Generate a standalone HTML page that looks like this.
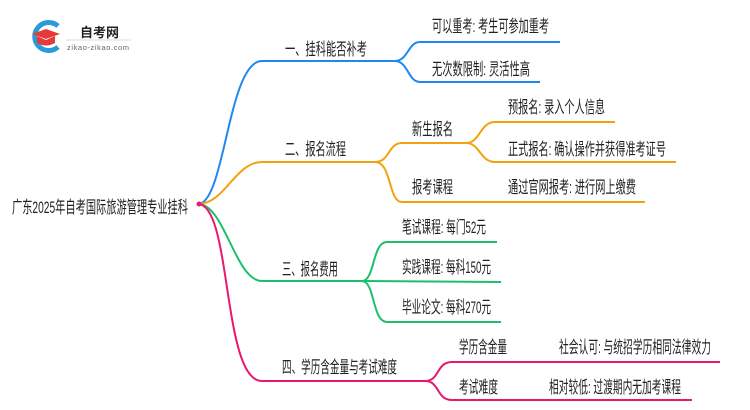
<!DOCTYPE html>
<html><head><meta charset="utf-8"><style>
html,body{margin:0;padding:0;background:#fff;width:750px;height:410px;overflow:hidden}
svg text{font-family:"Liberation Sans","Noto Sans CJK SC",sans-serif;font-size:17px;fill:#222}
</style></head><body>
<svg width="750" height="410" viewBox="0 0 750 410" xmlns="http://www.w3.org/2000/svg">
<path d="M58 26 A14 14 0 1 0 58 47" fill="none" stroke="#2a9bd8" stroke-width="5"/>
<polygon points="46,29 60,34 46,39 32,34" fill="#e63a3a"/>
<path d="M37 36 L37 43 Q46 48 55 43 L55 36 L46 40 Z" fill="#e63a3a"/>
<text x="80" y="37" style="font-size:13px;font-weight:bold" fill="#222">自考网</text>
<line x1="66" y1="40" x2="131" y2="40" stroke="#ddd" stroke-width="1"/>
<text x="67" y="50" style="font-size:7.5px;fill:#666" textLength="62">zikao-zikao.com</text>

<g fill="none" stroke-width="2">
<g stroke="#1e88f0">
<path d="M198 204 C225 204 228 61 262 61 L395 61"/>
<path d="M395 61 C408 61 408 42 420 42 L560 42"/>
<path d="M395 61 C408 61 408 82 420 82 L540 82"/>
</g>
<g stroke="#f2a20c">
<path d="M198 204 C225 204 235 162 262 162 L375 162"/>
<path d="M375 162 C390 162 388 143 402 143 L466 143"/>
<path d="M375 162 C392 162 388 202 402 202 L645 202"/>
<path d="M466 143 C480 143 480 122 495 122 L615 122"/>
<path d="M466 143 C480 143 480 162 495 162 L676 162"/>
</g>
<g stroke="#1cbf6a">
<path d="M198 204 C225 204 235 281 262 281 L362 281"/>
<path d="M362 281 C375 281 372 242 387 242 L497 242"/>
<path d="M362 281 L501 282"/>
<path d="M362 281 C375 281 372 322 387 322 L501 322"/>
</g>
<g stroke="#e8186c">
<path d="M198 204 C232 204 222 381 262 381 L425 381"/>
<path d="M425 381 C440 381 436 362 452 362 L720 362"/>
<path d="M425 381 C440 381 436 400 452 400 L692 400"/>
</g>
</g>
<circle cx="199" cy="204" r="2.5" fill="#e8186c"/>

<text x="12" y="213" textLength="176" lengthAdjust="spacingAndGlyphs">广东2025年自考国际旅游管理专业挂科</text>
<text x="285" y="55" textLength="82" lengthAdjust="spacingAndGlyphs">一、挂科能否补考</text>
<text x="432" y="32" textLength="117" lengthAdjust="spacingAndGlyphs">可以重考: 考生可参加重考</text>
<text x="432" y="75" textLength="98" lengthAdjust="spacingAndGlyphs">无次数限制: 灵活性高</text>
<text x="285" y="155" textLength="61" lengthAdjust="spacingAndGlyphs">二、报名流程</text>
<text x="412" y="135" textLength="41" lengthAdjust="spacingAndGlyphs">新生报名</text>
<text x="412" y="193" textLength="41" lengthAdjust="spacingAndGlyphs">报考课程</text>
<text x="508" y="113" textLength="97" lengthAdjust="spacingAndGlyphs">预报名: 录入个人信息</text>
<text x="508" y="155" textLength="158" lengthAdjust="spacingAndGlyphs">正式报名: 确认操作并获得准考证号</text>
<text x="508" y="193" textLength="128" lengthAdjust="spacingAndGlyphs">通过官网报考: 进行网上缴费</text>
<text x="282" y="275" textLength="56" lengthAdjust="spacingAndGlyphs">三、报名费用</text>
<text x="402" y="233" textLength="84" lengthAdjust="spacingAndGlyphs">笔试课程: 每门52元</text>
<text x="402" y="273" textLength="89" lengthAdjust="spacingAndGlyphs">实践课程: 每科150元</text>
<text x="402" y="313" textLength="89" lengthAdjust="spacingAndGlyphs">毕业论文: 每科270元</text>
<text x="282" y="373" textLength="115" lengthAdjust="spacingAndGlyphs">四、学历含金量与考试难度</text>
<text x="459" y="353" textLength="48" lengthAdjust="spacingAndGlyphs">学历含金量</text>
<text x="459" y="393" textLength="39" lengthAdjust="spacingAndGlyphs">考试难度</text>
<text x="559" y="353" textLength="152" lengthAdjust="spacingAndGlyphs">社会认可: 与统招学历相同法律效力</text>
<text x="549" y="393" textLength="132" lengthAdjust="spacingAndGlyphs">相对较低: 过渡期内无加考课程</text>
</svg>
</body></html>
